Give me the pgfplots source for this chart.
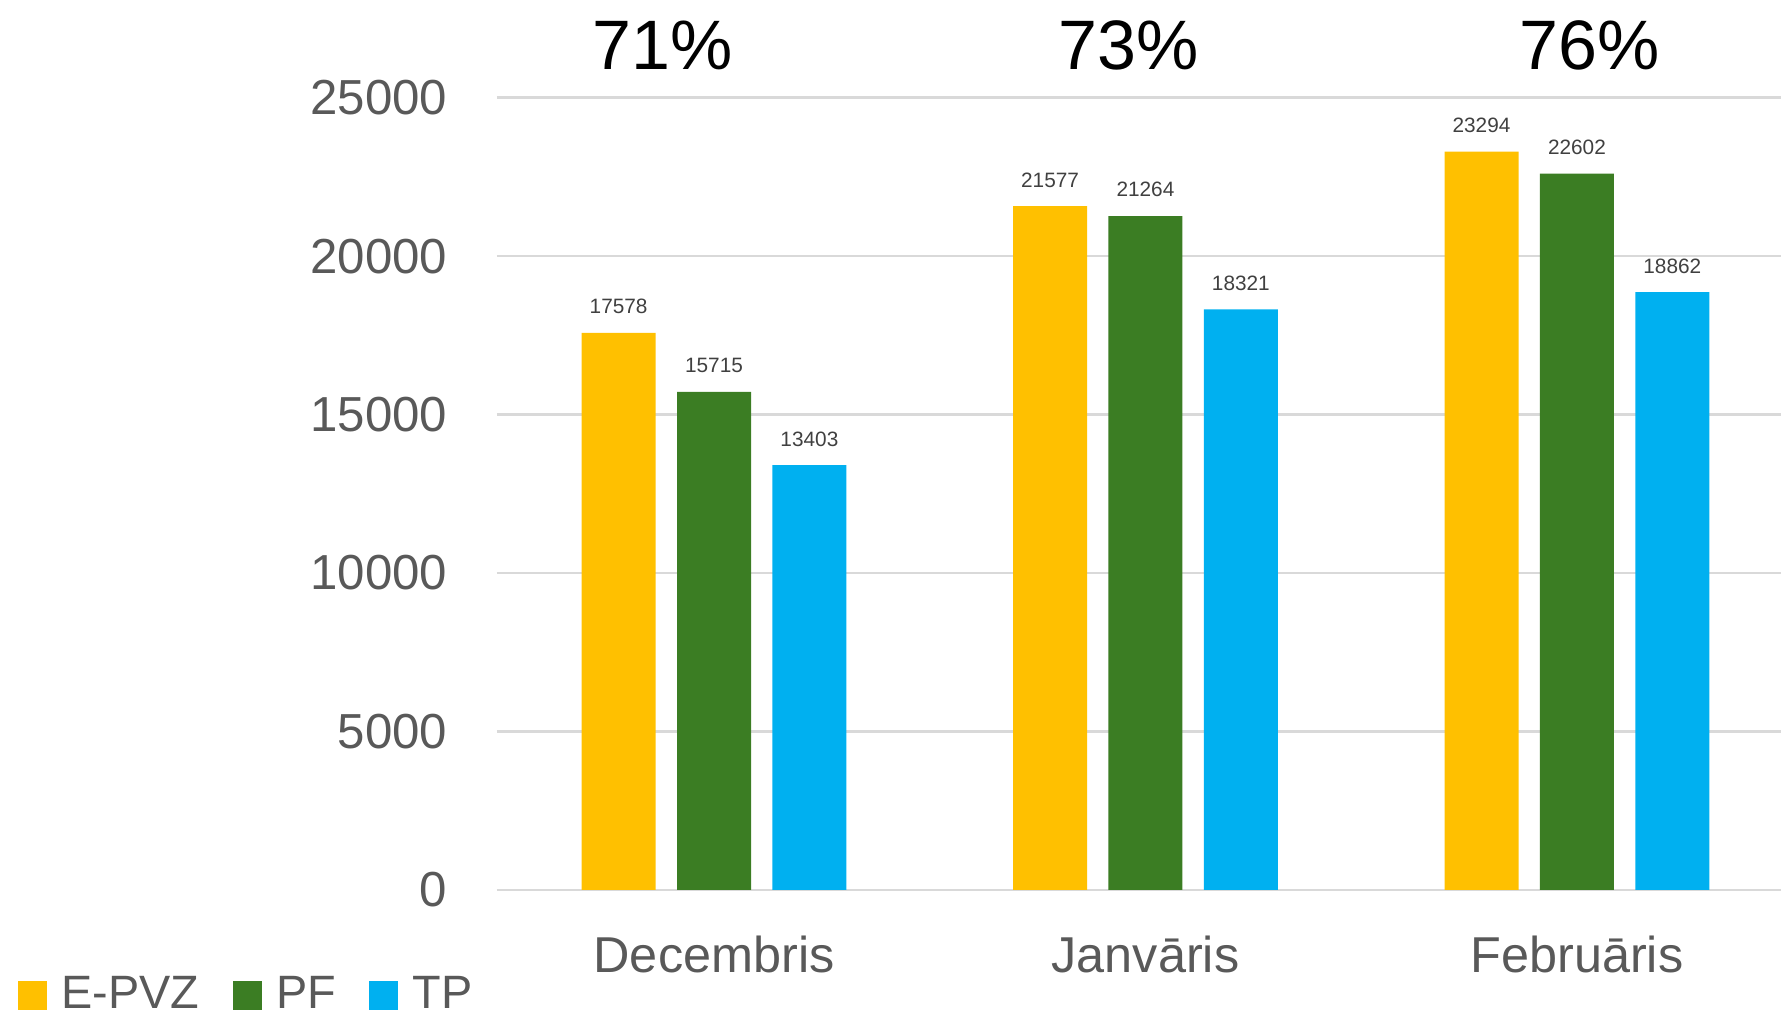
\documentclass[border=0pt]{standalone}
\usepackage{pgfplots}
\pgfplotsset{compat=1.18}
\usepackage{fontspec}
\setmainfont{Liberation Sans}
\definecolor{cY}{HTML}{FFC000}
\definecolor{cG}{HTML}{3B7D23}
\definecolor{cB}{HTML}{00B0F0}
\definecolor{tick}{HTML}{595959}
\definecolor{lbl}{HTML}{404040}
\definecolor{gridc}{HTML}{D9D9D9}
\begin{document}
\begin{tikzpicture}
\useasboundingbox (0,0) rectangle (445.25pt,253.5pt);
\begin{axis}[
  at={(124.25pt,31pt)}, anchor=south west,
  scale only axis, width=321pt, height=198.1pt,
  xmin=-0.503, xmax=2.473, ymin=0, ymax=25000,
  ybar=5.35pt, bar width=18.5pt,
  axis line style={draw=none},
  ymajorgrids, grid style={gridc, line width=0.6pt},
  major tick style={draw=none},
  scaled y ticks=false,
  ytick={0,5000,10000,15000,20000,25000},
  xtick={0,1,2},
  xticklabels={Decembris, Janvāris, Februāris},
  /pgf/number format/.cd, assume math mode=true, 1000 sep={}, /pgfplots/.cd,
  yticklabel style={font=\fontsize{12.3pt}{14pt}\selectfont, text=tick, inner sep=0pt, anchor=east, xshift=-12.25pt},
  xticklabel style={font=\fontsize{12.6pt}{14pt}\selectfont, text=tick, inner sep=0pt, anchor=base, yshift=-16.25pt},
  nodes near coords,
  every node near coord/.append style={font=\fontsize{5.2pt}{6pt}\selectfont, text=lbl, anchor=base, inner sep=0pt, yshift=4.75pt},
  clip=false,
  legend columns=3,
  legend style={draw=none, fill=none, inner sep=0pt, outer sep=0pt,
    at={(-0.373,-0.157)}, anchor=south west,
    font=\fontsize{11.7pt}{13pt}\selectfont, text=tick,
    nodes={inner sep=0pt},
    /tikz/every odd column/.append style={column sep=3.6pt},
    /tikz/every even column/.append style={column sep=8.3pt}},
  legend image code/.code={\fill[#1] (0pt,-3.6pt) rectangle (7.3pt,3.6pt);},
]
\addplot[fill=cY, draw=none] coordinates {(0,17578) (1,21577) (2,23294)};
\addplot[fill=cG, draw=none] coordinates {(0,15715) (1,21264) (2,22602)};
\addplot[fill=cB, draw=none] coordinates {(0,13403) (1,18321) (2,18862)};
\legend{E-PVZ, PF, TP}
\node[font=\fontsize{17.5pt}{20pt}\selectfont, text=black] at (axis cs:-0.12,26660) {71\%};
\node[font=\fontsize{17.5pt}{20pt}\selectfont, text=black] at (axis cs:0.96,26660) {73\%};
\node[font=\fontsize{17.5pt}{20pt}\selectfont, text=black] at (axis cs:2.03,26660) {76\%};
\end{axis}
\end{tikzpicture}
\end{document}
